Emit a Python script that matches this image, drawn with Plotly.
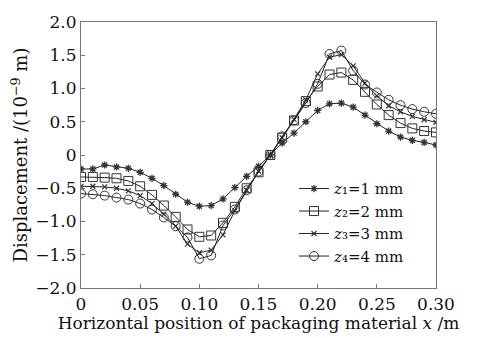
import plotly.graph_objects as go

x = [round(i * 0.01, 2) for i in range(31)]

z1 = [-0.21, -0.21, -0.15, -0.18, -0.20, -0.26, -0.35, -0.46, -0.59, -0.71, -0.77,
      -0.76, -0.66, -0.49, -0.32, -0.17, 0.0, 0.18, 0.33, 0.50, 0.67, 0.77, 0.78,
      0.72, 0.60, 0.47, 0.36, 0.27, 0.22, 0.19, 0.15]
z2 = [-0.33, -0.33, -0.34, -0.35, -0.39, -0.47, -0.60, -0.76, -0.93, -1.12, -1.23,
      -1.21, -1.02, -0.78, -0.50, -0.26, 0.0, 0.26, 0.52, 0.81, 1.03, 1.21, 1.24,
      1.13, 0.95, 0.76, 0.60, 0.48, 0.40, 0.36, 0.34]
z3 = [-0.47, -0.47, -0.48, -0.50, -0.54, -0.61, -0.73, -0.89, -1.07, -1.34, -1.47,
      -1.43, -1.20, -0.84, -0.53, -0.24, 0.0, 0.26, 0.54, 0.83, 1.22, 1.47, 1.51,
      1.34, 1.08, 0.89, 0.74, 0.65, 0.58, 0.53, 0.49]
z4 = [-0.58, -0.59, -0.61, -0.64, -0.67, -0.73, -0.82, -0.94, -1.07, -1.24, -1.56,
      -1.51, -1.06, -0.82, -0.53, -0.25, 0.0, 0.28, 0.52, 0.78, 1.07, 1.52, 1.57,
      1.27, 1.06, 0.94, 0.83, 0.75, 0.69, 0.65, 0.62]

names = ["<i>z</i>\u2081=1 mm", "<i>z</i>\u2082=2 mm",
         "<i>z</i>\u2083=3 mm", "<i>z</i>\u2084=4 mm"]

xtick_vals = [0, 0.05, 0.10, 0.15, 0.20, 0.25, 0.30]
xtick_text = ["0", "0.05", "0.10", "0.15", "0.20", "0.25", "0.30"]
ytick_vals = [-2.0, -1.5, -1.0, -0.5, 0, 0.5, 1.0, 1.5, 2.0]
ytick_text = ["\u22122.0", "\u22121.5", "\u22121.0", "\u22120.5", "0", "0.5", "1.0", "1.5", "2.0"]

styles = [
    dict(symbol="asterisk-open", size=6, line=dict(width=1.3, color="#333")),
    dict(symbol="square-open", size=9, line=dict(width=1, color="#444")),
    dict(symbol="x-thin-open", size=5, line=dict(width=1.2, color="#333")),
    dict(symbol="circle-open", size=9, line=dict(width=1, color="#444")),
]

fig = go.Figure()
for ys, nm, st in zip([z1, z2, z3, z4], names, styles):
    fig.add_trace(go.Scatter(
        x=x, y=ys, mode="lines+markers", name=nm,
        line=dict(color="#222", width=1),
        marker=dict(color="#333", **st),
    ))

font_family = "DejaVu Serif, Liberation Serif, serif"
fig.update_layout(
    width=479, height=338,
    margin=dict(l=81, r=43, t=13, b=50),
    paper_bgcolor="white", plot_bgcolor="white",
    font=dict(family=font_family, size=17, color="#111"),
    showlegend=True,
    legend=dict(x=0.6, y=0.435, xanchor="left", yanchor="top",
                bgcolor="rgba(0,0,0,0)", font=dict(size=15, family=font_family),
                itemwidth=30, tracegroupgap=0),
    xaxis=dict(range=[0, 0.30], tickvals=xtick_vals, ticktext=xtick_text,
               showgrid=False, zeroline=False, showline=True, mirror=True,
               linecolor="#777", linewidth=1.2, ticks="inside", ticklen=4,
               tickcolor="#777", tickfont=dict(size=17),
               title=dict(text="Horizontal position of packaging material <i>x</i> /m",
                          font=dict(size=17), standoff=1)),
    yaxis=dict(range=[-2.0, 2.0], tickvals=ytick_vals, ticktext=ytick_text,
               showgrid=False, zeroline=False, showline=True, mirror=True,
               linecolor="#777", linewidth=1.2, ticks="inside", ticklen=4,
               tickcolor="#777", tickfont=dict(size=17),
               title=dict(text="Displacement /(10<sup>\u22129</sup> m)",
                          font=dict(size=18), standoff=2)),
)

fig.write_html("out.html")
